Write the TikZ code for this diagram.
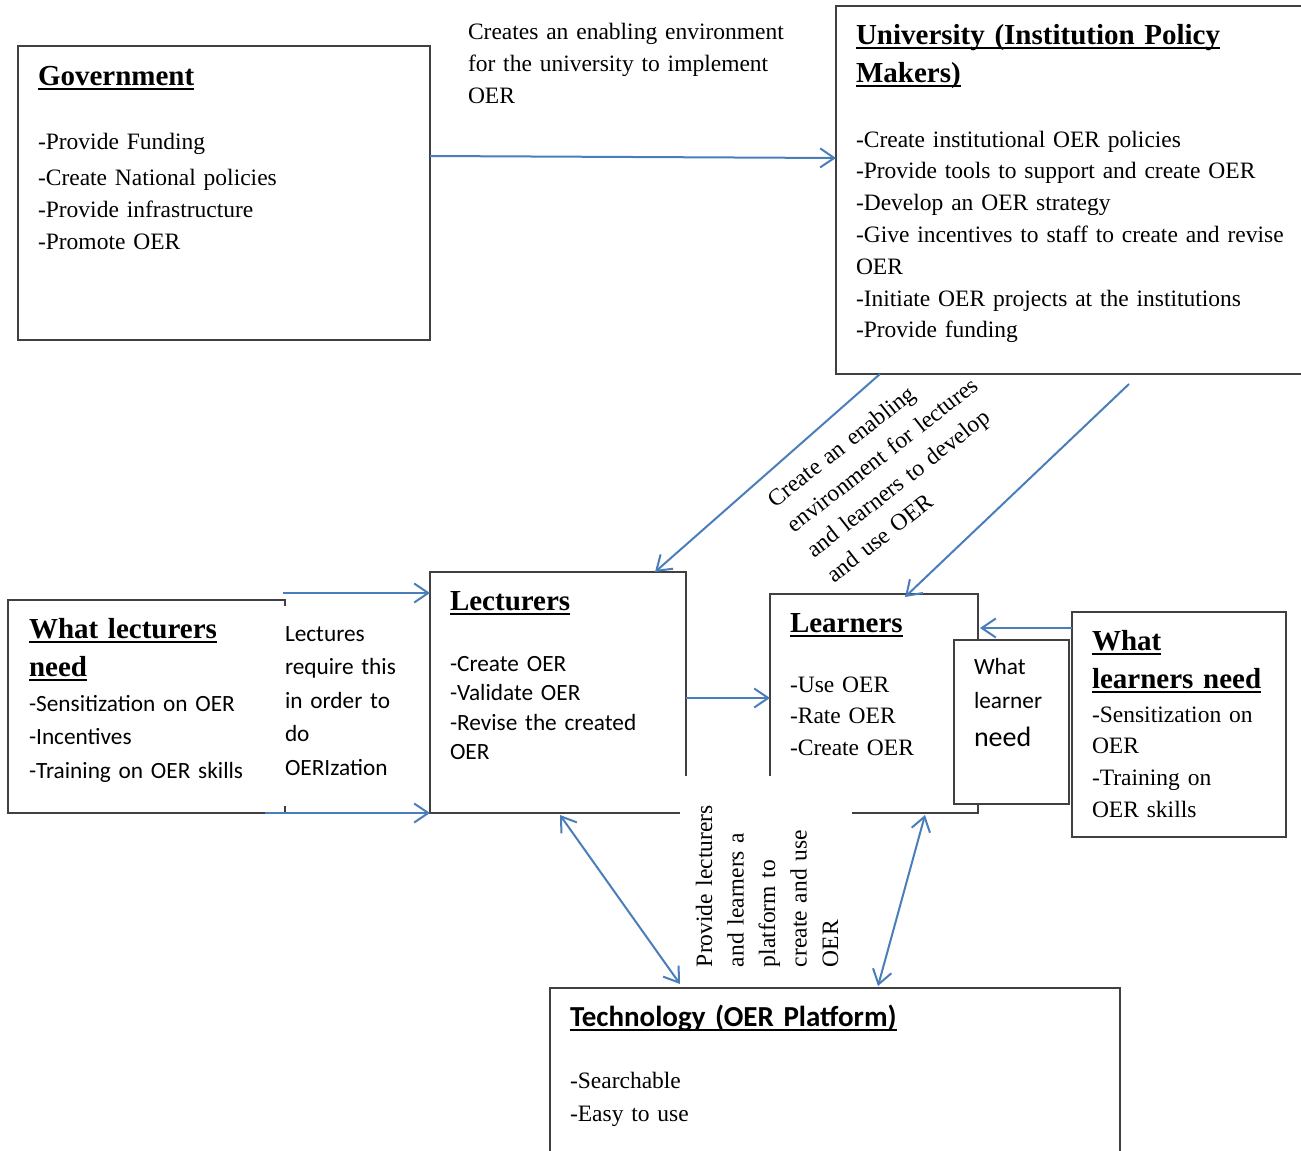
\documentclass[tikz,border=0pt]{standalone}
\usepackage{fontspec}
\setmainfont{Liberation Serif}
\newfontfamily\calfont{Carlito}
\usetikzlibrary{arrows.meta,calc}
\definecolor{arrowblue}{HTML}{4A7EBB}
\definecolor{boxgray}{HTML}{404040}
\newcommand\hul[1]{\leavevmode\setbox0=\hbox{#1}\rlap{\rule[-4.5pt]{\wd0}{2pt}}\box0}
\newcommand\headsz{\fontsize{29}{38}\selectfont}
\newcommand\bodysz{\fontsize{23.5}{32}\selectfont}
\begin{document}
\begin{tikzpicture}[x=1pt,y=-1pt,
  >={Straight Barb[length=14pt,width=19pt]},
  boxarea/.style={inner sep=0pt, outer sep=0pt, anchor=north west},
  fullbox/.style={boxarea, draw=boxgray, line width=1.4pt},
  border/.style={draw=boxgray, line width=1.4pt},
  arr/.style={draw=arrowblue, line width=2pt, ->},
  darr/.style={draw=arrowblue, line width=2pt, <->},
  txt/.style={anchor=base west, inner sep=0pt, outer sep=0pt, align=left, text width=600pt}]
\useasboundingbox (0,0) rectangle (1301,1151);
\clip (0,0) rectangle (1301,1151);
\fill[white] (0,0) rectangle (1301,1151);

% boxes
\node[fullbox, minimum width=412pt, minimum height=294pt] (gov) at (18,46) {};
\node[fullbox, minimum width=480pt, minimum height=368pt] (univ) at (836,6) {};
\node[boxarea, minimum width=277pt, minimum height=213pt] (wln) at (8,600) {};
\node[boxarea, minimum width=256pt, minimum height=241pt] (lect) at (430,572) {};
\node[boxarea, minimum width=208pt, minimum height=219pt] (learn) at (770,594) {};
\node[fullbox, minimum width=214pt, minimum height=225pt] (wlsn) at (1072,612) {};
\node[fullbox, minimum width=570pt, minimum height=200pt] (tech) at (550,988) {};

\draw[border] ($(wln.north east)+(0,6)$) -- (wln.north east) -- (wln.north west)
  -- (wln.south west) -- (wln.south east) -- ++(0,-7);
\draw[border] ($(lect.south east)+(-6,0)$) -- (lect.south west) -- (lect.north west)
  -- (lect.north east) -- ($(lect.north east)+(0,204)$);
\draw[border] ($(learn.north west)+(0,182)$) -- (learn.north west) -- (learn.north east)
  -- (learn.south east) -- ($(learn.south east)+(-126,0)$);
\node[fullbox, fill=white, minimum width=115pt, minimum height=164pt] (wlrn) at (954,640) {};

% texts
\node[txt, font=\bfseries\headsz] (govh) at (38,85) {\hul{Government}};
\node[txt, font=\bodysz] (govl) at (38,149) {-Provide Funding\\[4pt] -Create National policies\\ -Provide infrastructure\\ -Promote OER};

\node[txt, font=\bfseries\headsz] (univh) at (856,44) {\hul{University (Institution Policy}\\ \hul{Makers)}};
\node[txt, font=\fontsize{23.5}{31.8}\selectfont] (univl) at (856,147) {-Create institutional OER policies\\ -Provide tools to support and create OER\\ -Develop an OER strategy\\ -Give incentives to staff to create and revise\\ OER\\ -Initiate OER projects at the institutions\\ -Provide funding};

\node[txt, font=\bodysz] (toptxt) at (468,39) {Creates an enabling environment\\ for the university to implement\\ OER};

\node[txt, font=\bfseries\headsz] (wlnh) at (29,638) {\hul{What lecturers}\\ \hul{need}};
\node[txt, font=\calfont\fontsize{23.3}{33.5}\selectfont] (wlnl) at (29,711) {-Sensitization on OER\\ -Incentives\\ -Training on OER skills};
\node[txt, font=\calfont\fontsize{23.3}{33.5}\selectfont] (req) at (285,641) {Lectures\\ require this\\ in order to\\ do\\ OERIzation};

\node[txt, font=\bfseries\headsz] (lecth) at (450,610) {\hul{Lecturers}};
\node[txt, font=\calfont\fontsize{23.3}{29.5}\selectfont] (lectl) at (450,671) {-Create OER\\ -Validate OER\\ -Revise the created\\ OER};

\node[txt, font=\bfseries\headsz] (learnh) at (790,632) {\hul{Learners}};
\node[txt, font=\fontsize{23.5}{31.5}\selectfont] (learnl) at (790,692) {-Use OER\\ -Rate OER\\ -Create OER};

\node[txt, font=\calfont\fontsize{23.3}{34}\selectfont] (wlrnt) at (974,674) {What\\ learner\\[4pt] {\fontsize{28}{34}\selectfont need}};

\node[txt, font=\bfseries\headsz] (wlsnh) at (1092,650) {\hul{What}\\ \hul{learners need}};
\node[txt, font=\fontsize{23.5}{31.7}\selectfont] (wlsnl) at (1092,722) {-Sensitization on\\ OER\\ -Training on\\ OER skills};

\node[txt, font=\calfont\bfseries\fontsize{29}{38}\selectfont] (techh) at (570,1026) {\hul{Technology (OER Platform)}};
\node[txt, font=\fontsize{23.5}{33}\selectfont] (techl) at (570,1088) {-Searchable\\ -Easy to use};

\node[txt, font=\bodysz, rotate=38] (envtxt) at (775,508) {Create an enabling\\ environment for lectures\\ and learners to develop\\ and use OER};
\node[txt, font=\fontsize{23.5}{31.5}\selectfont, rotate=90] (plattxt) at (712,967) {Provide lecturers\\ and learners a\\ platform to\\ create and use\\ OER};

% connectors
\coordinate (a4s) at (283,593);
\coordinate (a5s) at (265,813);
\coordinate (a3s) at (1129,384);
\draw[arr] (gov.east |- 0,156) -- (univ.west |- 0,158);
\draw[arr] (univ.south -| 880,0) -- (lect.north -| 655,0);
\draw[arr] (a3s) -- ($(learn.north -| 905,0)+(0,3)$);
\draw[arr] (a4s) -- (lect.west |- a4s);
\draw[arr] (a5s) -- (lect.south west);
\draw[arr] (lect.east |- 0,698) -- (learn.west |- 0,698);
\draw[arr] (wlsn.west |- 0,628) -- ($(learn.east |- 0,628)+(2,0)$);
\draw[darr] ($(tech.north -| 680,0)+(0,-4)$) -- ($(lect.south -| 560,0)+(0,2)$);
\draw[darr] ($(tech.north -| 878,0)+(0,-2)$) -- ($(learn.south -| 925,0)+(0,2)$);
\end{tikzpicture}
\end{document}
